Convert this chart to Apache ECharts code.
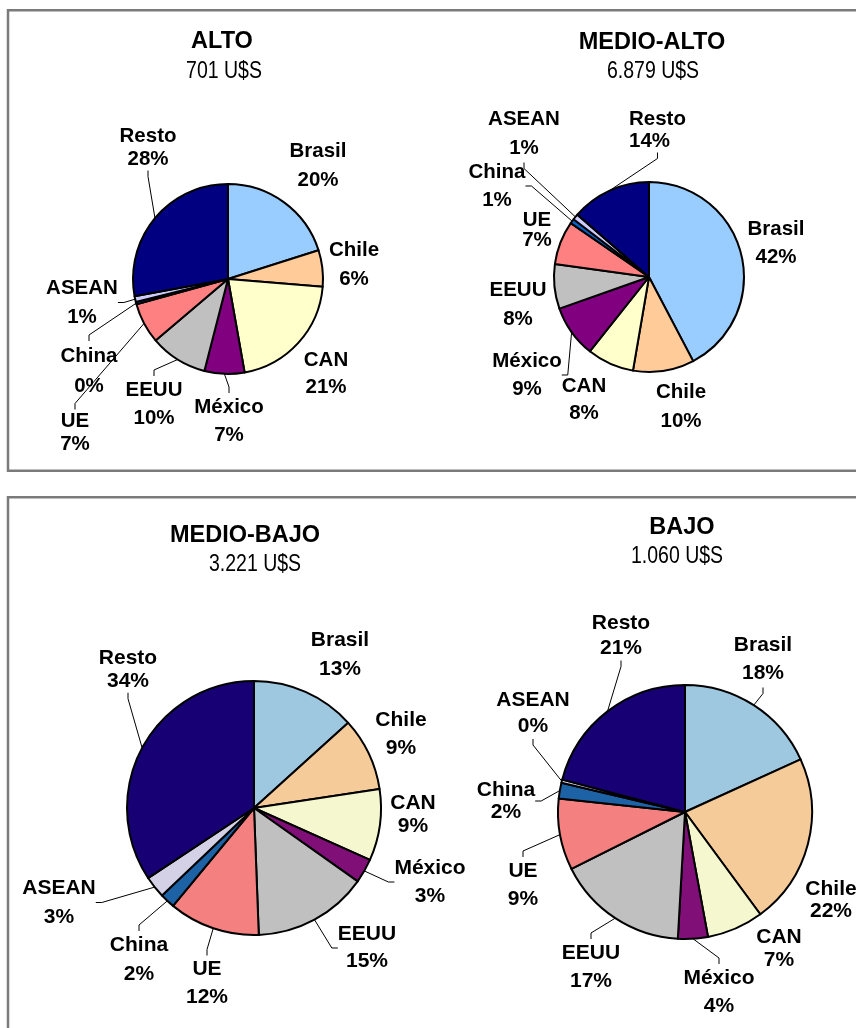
<!DOCTYPE html>
<html>
<head>
<meta charset="utf-8">
<script src="https://cdn.jsdelivr.net/npm/echarts@6/dist/echarts.min.js"></script>
<style>
html,body{margin:0;padding:0;background:#ffffff;}
#chart{width:856px;height:1028px;}
</style>
</head>
<body>
<div id="chart"></div>
<script>
// ---------- DATA ----------
const categories = ['Brasil', 'Chile', 'CAN', 'México', 'EEUU', 'UE', 'China', 'ASEAN', 'Resto'];
const panelTitles = ['ALTO', 'MEDIO-ALTO', 'MEDIO-BAJO', 'BAJO'];
const panelTotals = ['701 U$S', '6.879 U$S', '3.221 U$S', '1.060 U$S'];
const altoValues      = [20.1, 6.2, 20.9, 6.8, 9.8, 6.9, 0.4, 1.0, 27.9];
const medioAltoValues = [42.3, 10.4, 8.0, 8.9, 7.6, 7.4, 0.8, 1.0, 13.6];
const medioBajoValues = [13.3, 9.3, 9.1, 3.1, 14.6, 11.6, 1.9, 2.8, 34.3];
const bajoValues      = [18.2, 21.7, 7.2, 3.8, 16.7, 9.1, 2.0, 0.4, 20.9];
const seriesValues = [altoValues, medioAltoValues, medioBajoValues, bajoValues];

// ---------- STYLE / LAYOUT ----------
const topColors = ['#99CCFF', '#FFCC99', '#FFFFCC', '#800080', '#C0C0C0', '#FF8080', '#0066CC', '#CCCCFF', '#000080'];
const bottomColors = ['#9DC8DF', '#F5CB9A', '#F5F7CF', '#801078', '#C0C0C0', '#F48080', '#1E62A6', '#D4D0E6', '#170073'];

const panels = [
  { center: [228, 279], r: 95, colors: topColors, fs: 20.5,
    title: [222, 42], sub: [224, 72],
    labels: [[318,165.5,29],[354,264.5,29],[326,373.5,27],[229,421,28],[154,404,28],[75,432.5,23],[89,371,30],[82,302.5,29],[148,147.5,23]],
    lines: [0,0,0,1,1,1,1,1,1] },
  { center: [649, 277], r: 95, colors: topColors, fs: 20.5,
    title: [652, 43], sub: [653, 72],
    labels: [[776,243,28],[681,406.5,29],[584,399.5,27],[527,375,28],[518,304.5,29],[537,230,20],[497,186,28],[524,133.5,29],[629,130.5,22,'left']],
    lines: [0,0,0,1,0,0,1,1,1] },
  { center: [254, 808], r: 127, colors: bottomColors, fs: 21,
    title: [245, 536], sub: [255, 565],
    labels: [[340,655,29],[401,734.7,28],[413,814.5,23],[430,882,28],[367,948,27],[207,983.5,28],[139,960,29],[59,902.5,29],[128,669.7,23]],
    lines: [0,0,0,1,1,1,1,1,1] },
  { center: [685, 812], r: 127, colors: bottomColors, fs: 21,
    title: [682, 528], sub: [677, 557],
    labels: [[763,659.5,28],[831,900.5,22],[779,949,23],[719,992,28],[591,967,28],[523,885,28],[506,801,22],[533,713,26],[621,635.5,25]],
    lines: [1,0,0,1,1,1,1,1,1] }
];

const titleComps = panels.map((p, i) => ({
  text: panelTitles[i], left: p.title[0], top: p.title[1], textAlign: 'center', textVerticalAlign: 'middle', padding: 0,
  textStyle: { fontFamily: '"Liberation Sans", Arial, sans-serif', fontWeight: 'bold', fontSize: 23.5, color: '#000' }
}));

// subtitles drawn in a narrow (horizontally condensed) face
const subTexts = panels.map((p, i) => ({
  type: 'text', silent: true, x: p.sub[0], y: p.sub[1], scaleX: 0.83, scaleY: 1,
  style: { text: panelTotals[i], fill: '#000', font: '23.5px "Liberation Sans", Arial, sans-serif', align: 'center', verticalAlign: 'middle' }
}));

const series = panels.map((p, si) => ({
  type: 'pie',
  center: p.center,
  radius: p.r,
  startAngle: 90,
  clockwise: true,
  avoidLabelOverlap: false,
  silent: true,
  animation: false,
  emphasis: { disabled: true },
  itemStyle: { borderColor: '#000', borderWidth: 2 },
  label: {
    show: true, position: 'outside', alignTo: 'none', overflow: 'none',
    color: '#000', fontFamily: '"Liberation Sans", Arial, sans-serif', fontWeight: 'bold', fontSize: p.fs,
    formatter: d => d.name + '\n' + Math.round(d.percent) + '%'
  },
  labelLine: { show: true, length: 6, length2: 6, smooth: false, lineStyle: { color: '#000', width: 1 } },
  labelLayout: params => {
    const l = p.labels[params.dataIndex];
    return { x: l[0], y: l[1], align: l[3] || 'center', verticalAlign: 'middle' };
  },
  data: categories.map((c, k) => ({
    name: c,
    value: seriesValues[si][k],
    itemStyle: { color: p.colors[k] },
    label: { lineHeight: p.labels[k][2] },
    labelLine: { show: !!p.lines[k] }
  }))
}));

const chart = echarts.init(document.getElementById('chart'), null, { renderer: 'canvas' });
chart.setOption({
  backgroundColor: '#ffffff',
  animation: false,
  title: titleComps,
  graphic: [
    { type: 'rect', silent: true, z: -10, shape: { x: 8, y: 10.3, width: 880, height: 460.5 }, style: { fill: 'none', stroke: '#7a7a7a', lineWidth: 2.5 } },
    { type: 'rect', silent: true, z: -10, shape: { x: 8, y: 497.3, width: 880, height: 600 }, style: { fill: 'none', stroke: '#7a7a7a', lineWidth: 2.5 } }
  ].concat(subTexts),
  series: series
});
</script>
</body>
</html>
